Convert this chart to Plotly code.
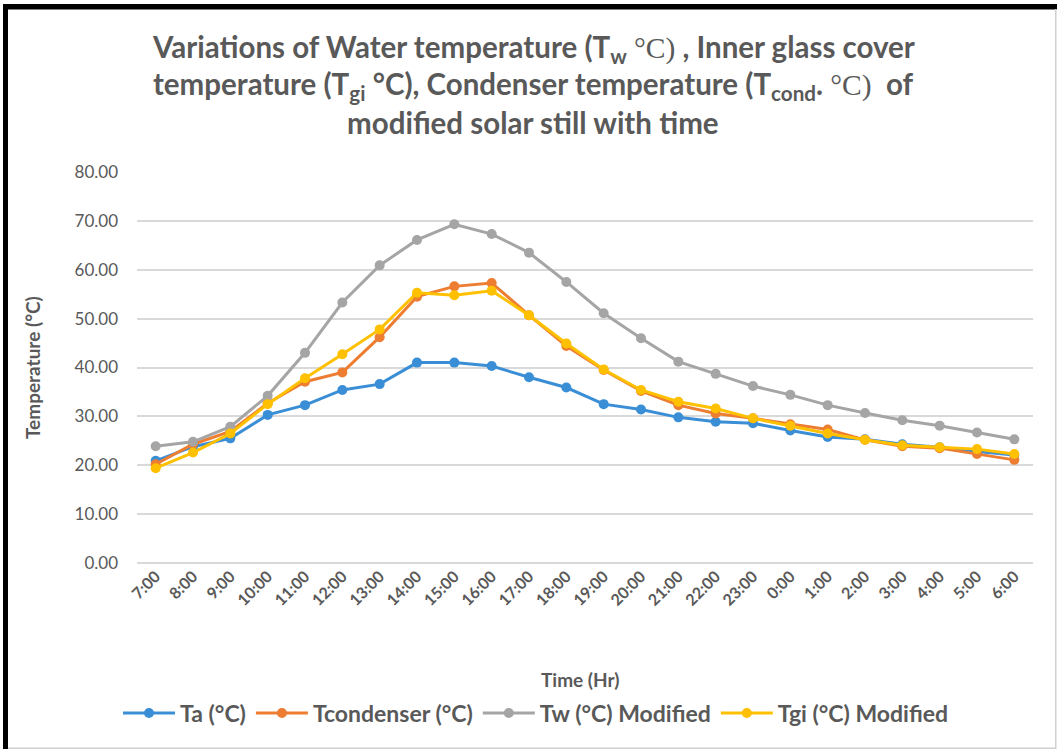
import plotly.graph_objects as go

times = ["7:00", "8:00", "9:00", "10:00", "11:00", "12:00", "13:00", "14:00", "15:00",
         "16:00", "17:00", "18:00", "19:00", "20:00", "21:00", "22:00", "23:00", "0:00",
         "1:00", "2:00", "3:00", "4:00", "5:00", "6:00"]

ta = [20.9, 23.8, 25.5, 30.3, 32.3, 35.4, 36.6, 41.0, 41.0, 40.3, 38.0, 35.9, 32.5, 31.4,
      29.8, 28.9, 28.6, 27.1, 25.8, 25.3, 24.3, 23.7, 22.8, 22.1]
tcond = [20.2, 24.3, 26.9, 32.7, 37.1, 39.0, 46.2, 54.5, 56.6, 57.3, 50.7, 44.4, 39.5, 35.2,
         32.3, 30.6, 29.6, 28.4, 27.3, 25.2, 23.9, 23.5, 22.3, 21.1]
tw = [23.9, 24.8, 27.9, 34.2, 43.0, 53.3, 60.9, 66.1, 69.3, 67.3, 63.5, 57.5, 51.1, 46.0,
      41.2, 38.7, 36.2, 34.4, 32.3, 30.7, 29.2, 28.1, 26.7, 25.3]
tgi = [19.4, 22.6, 26.5, 32.5, 37.8, 42.7, 47.8, 55.3, 54.8, 55.7, 50.7, 44.9, 39.6, 35.4,
       33.0, 31.6, 29.6, 28.1, 26.5, 25.2, 24.1, 23.7, 23.3, 22.3]

series = [
    ("Ta (°C)", ta, "#3A8ED6"),
    ("Tcondenser (°C)", tcond, "#ED7D31"),
    ("Tw (°C) Modified", tw, "#A5A5A5"),
    ("Tgi (°C) Modified", tgi, "#FFC000"),
]

W, H = 1058, 751
L, R, T, B = 137, 1033, 172, 563
PW, PH = R - L, B - T


def px(x):
    return (x - L) / PW


def py(y):
    return (B - y) / PH


FONT = "Lato"
GRAY = "#595959"

fig = go.Figure()
for name, vals, col in series:
    fig.add_trace(go.Scatter(
        x=times, y=vals, name=name, mode="lines+markers",
        line=dict(color=col, width=3),
        marker=dict(color=col, size=10, line=dict(width=0)),
    ))

serif = "<span style=\"font-family:'Liberation Serif';font-weight:normal\">°C)</span>"
title_lines = [
    ("Variations of Water temperature (T<sub>w</sub> " + serif + " , Inner glass cover", 48),
    ("temperature (T<sub>gi</sub> °C), Condenser temperature (T<sub>cond</sub>. " + serif + "  of", 85),
    ("modified solar still with time", 122),
]
annotations = []
for txt, yy in title_lines:
    annotations.append(dict(
        text="<b>" + txt + "</b>", x=px(533), y=py(yy), xref="paper", yref="paper",
        xanchor="center", yanchor="middle", showarrow=False,
        font=dict(family=FONT, size=29.5, color=GRAY),
    ))
annotations.append(dict(
    text="<b>Time (Hr)</b>", x=px(580), y=py(679), xref="paper", yref="paper",
    xanchor="center", yanchor="middle", showarrow=False,
    font=dict(family=FONT, size=19, color=GRAY),
))
annotations.append(dict(
    text="<b>Temperature (°C)</b>", x=px(32), y=py(368), xref="paper", yref="paper",
    xanchor="center", yanchor="middle", showarrow=False, textangle=-90,
    font=dict(family=FONT, size=19, color=GRAY),
))

shapes = [
    dict(type="rect", xref="paper", yref="paper", x0=px(3), x1=px(8), y0=py(4), y1=py(749),
         fillcolor="black", line=dict(width=0), layer="above"),
    dict(type="rect", xref="paper", yref="paper", x0=px(3), x1=px(1057), y0=py(4), y1=py(9.5),
         fillcolor="black", line=dict(width=0), layer="above"),
    dict(type="rect", xref="paper", yref="paper", x0=px(1055), x1=px(1056.5), y0=py(9), y1=py(749),
         fillcolor="#D0D0D0", line=dict(width=0)),
    dict(type="rect", xref="paper", yref="paper", x0=px(8), x1=px(1056), y0=py(747.5), y1=py(749),
         fillcolor="#D0D0D0", line=dict(width=0)),
]

fig.update_layout(
    width=W, height=H,
    margin=dict(l=L, r=W - R, t=T, b=H - B, pad=0),
    paper_bgcolor="white", plot_bgcolor="white",
    font=dict(family=FONT, color=GRAY),
    showlegend=True,
    legend=dict(
        orientation="h", x=px(536), xanchor="center", y=py(713), yanchor="middle",
        font=dict(family=FONT, size=23, color=GRAY, weight="bold"),
        itemwidth=52, tracegroupgap=0, bgcolor="rgba(0,0,0,0)",
    ),
    annotations=annotations,
    shapes=shapes,
    xaxis=dict(
        type="category", range=[-0.5, 23.5], tickangle=-45,
        showgrid=False, showline=False, zeroline=False, ticks="",
        tickfont=dict(family=FONT, size=16, color=GRAY, weight="bold"),
        fixedrange=True,
    ),
    yaxis=dict(
        range=[0, 80], dtick=10, tickformat=".2f",
        showgrid=True, gridcolor="#D9D9D9", gridwidth=1.5,
        zeroline=True, zerolinecolor="#D9D9D9", zerolinewidth=1.5,
        showline=False, ticks="", ticklabelstandoff=18,
        tickfont=dict(family=FONT, size=17, color=GRAY),
        fixedrange=True,
    ),
)

fig.write_html("out.html", config={"displayModeBar": False},
               post_script="document.body.style.margin='0';document.body.style.overflow='hidden';")
